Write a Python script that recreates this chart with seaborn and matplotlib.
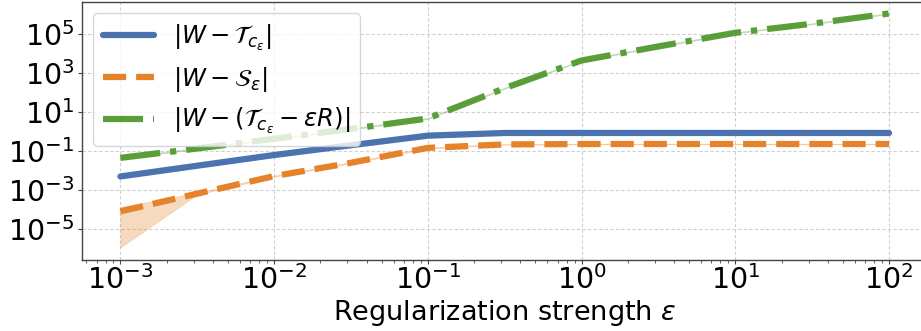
import matplotlib
matplotlib.use("Agg")
import matplotlib.pyplot as plt
import seaborn as sns
import pandas as pd

# regularization strengths (half-decade grid)
eps = [1e-3, 3.16e-3, 1e-2, 3.16e-2, 1e-1, 3.16e-1, 1.0, 3.16, 10.0, 31.6, 100.0]

# |W - T_c_eps|
err_T = [4.8e-3, 1.7e-2, 6.0e-2, 1.9e-1, 0.59, 0.81, 0.81, 0.81, 0.81, 0.81, 0.81]
err_T_lo = [4.4e-3, 1.6e-2, 5.6e-2, 1.8e-1, 0.56, 0.77, 0.77, 0.77, 0.77, 0.77, 0.77]
err_T_hi = [5.2e-3, 1.8e-2, 6.4e-2, 2.0e-1, 0.62, 0.85, 0.85, 0.85, 0.85, 0.85, 0.85]

# |W - S_eps|
err_S = [7.8e-5, 6.3e-4, 5.0e-3, 2.4e-2, 0.14, 0.21, 0.22, 0.22, 0.22, 0.22, 0.22]
err_S_lo = [1.1e-6, 5.6e-4, 4.6e-3, 2.2e-2, 0.13, 0.20, 0.21, 0.21, 0.21, 0.21, 0.21]
err_S_hi = [1.3e-4, 7.0e-4, 5.4e-3, 2.6e-2, 0.15, 0.22, 0.23, 0.23, 0.23, 0.23, 0.23]

# |W - (T_c_eps - eps R)|
err_R = [0.043, 0.13, 0.41, 1.3, 4.5, 160.0, 4.2e3, 2.2e4, 1.1e5, 3.2e5, 1.07e6]
err_R_lo = [0.040, 0.12, 0.38, 1.2, 4.2, 150.0, 3.9e3, 2.05e4, 1.03e5, 3.0e5, 1.0e6]
err_R_hi = [0.046, 0.14, 0.44, 1.4, 4.8, 170.0, 4.5e3, 2.35e4, 1.17e5, 3.4e5, 1.14e6]

labels = [
    r"$|W - \mathcal{T}_{c_\varepsilon}|$",
    r"$|W - \mathcal{S}_\varepsilon|$",
    r"$|W - (\mathcal{T}_{c_\varepsilon} - \varepsilon R)|$",
]
colors = ["#4c72b0", "#e6822a", "#5a9e3a"]
styles = ["-", "--", "-."]
series = [(err_T, err_T_lo, err_T_hi), (err_S, err_S_lo, err_S_hi), (err_R, err_R_lo, err_R_hi)]

sns.set_style("ticks")
plt.rcParams["font.family"] = ["DejaVu Sans"]
plt.rcParams["text.color"] = "black"

fig = plt.figure(figsize=(9.21, 3.31), dpi=100)
ax = fig.add_axes([0.089, 0.2145, 0.918, 0.7795])

for (mid, lo, hi), lab, col, ls in zip(series, labels, colors, styles):
    df = pd.DataFrame({"eps": eps, "err": mid})
    sns.lineplot(data=df, x="eps", y="err", ax=ax, color=col, linestyle=ls,
                 linewidth=4.5, label=lab)
    ax.fill_between(eps, lo, hi, color=col, alpha=0.3, linewidth=0.4)

ax.set_xscale("log")
ax.set_yscale("log")
ax.set_xlim(10 ** -3.25, 10 ** 2.25)
ax.set_ylim(10 ** -6.6, 10 ** 6.62)
ax.set_yticks([1e-5, 1e-3, 1e-1, 1e1, 1e3, 1e5])
ax.xaxis.set_minor_locator(matplotlib.ticker.LogLocator(base=10, subs=range(2, 10), numticks=20))
ax.xaxis.set_minor_formatter(matplotlib.ticker.NullFormatter())
ax.yaxis.set_minor_locator(matplotlib.ticker.NullLocator())

ax.grid(True, which="major", linestyle=(0, (3, 2)), color="#cfcfcf", linewidth=0.8)
ax.tick_params(axis="both", which="major", labelsize=20.5, length=3, color="#444444",
               labelcolor="black", pad=1)
ax.tick_params(axis="y", which="major", pad=2.5)
ax.tick_params(axis="x", which="minor", length=2, color="#444444")
for sp in ax.spines.values():
    sp.set_color("#444444")
    sp.set_linewidth(1.0)

ax.set_xlabel(r"Regularization strength $\varepsilon$", fontsize=19.5, va="baseline",
              color="black")
ax.xaxis.set_label_coords(0.5, -0.232)
ax.set_ylabel("")

leg = ax.legend(loc="upper left", fontsize=17.5, framealpha=0.8, handlelength=2.1,
                borderaxespad=0.45)
for txt in leg.get_texts():
    txt.set_color("black")

fig.savefig("out.png", dpi=100)
